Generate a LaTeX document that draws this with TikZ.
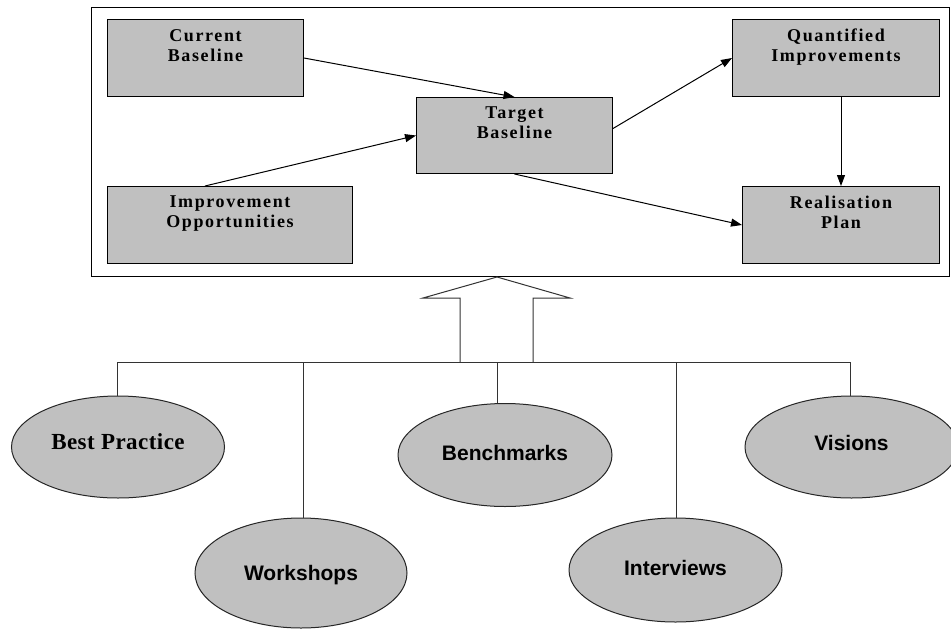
\documentclass[tikz,border=0pt]{standalone}
\usepackage{fontspec}
\setmainfont{Liberation Serif}
\newfontfamily\boxfont{Liberation Serif Bold}[LetterSpace=9]
\newfontfamily\ovalserif{Liberation Serif Bold}[LetterSpace=2]
\newfontfamily\ovalsans{Liberation Sans Bold}
\usetikzlibrary{arrows.meta,shapes.geometric,calc}
\definecolor{boxgray}{HTML}{C0C0C0}
\tikzset{
  box/.style={draw=black, line width=1pt, fill=boxgray, minimum width=#1, inner sep=0pt, anchor=north west},
  boxlabel/.style={anchor=north, yshift=-10pt, align=center, font=\boxfont\fontsize{18}{20}\selectfont, inner sep=0pt},
  oval/.style={ellipse, draw=black!85, line width=1pt, fill=boxgray, inner sep=0pt},
  ovaltext/.style={font=\ovalsans\fontsize{21}{24}\selectfont},
  flowarrow/.style={draw=black, line width=1pt, -{Triangle[length=11pt,width=8pt]}},
  bus/.style={draw=black!80, line width=1pt},
}
\begin{document}
\begin{tikzpicture}[x=1pt, y=-1pt]
\useasboundingbox (0,0) rectangle (951,630);
\fill[white] (0,0) rectangle (951,630);
% frame
\node[draw=black, line width=1pt, minimum width=858pt, minimum height=269pt, inner sep=0pt, anchor=north west] (frame) at (91,7) {};
% boxes
\node[box=196pt, minimum height=77pt, label={[boxlabel]north:{Current\\Baseline}}] (cb) at (107,19) {};
\node[box=245pt, minimum height=77pt, label={[boxlabel]north:{Improvement\\Opportunities}}] (io) at (107,186) {};
\node[box=196pt, minimum height=76pt, label={[boxlabel]north:{Target\\Baseline}}] (tb) at (416,97) {};
\node[box=207pt, minimum height=77pt, label={[boxlabel]north:{Quantified\\Improvements}}] (qi) at (732,19) {};
\node[box=197pt, minimum height=77pt, label={[boxlabel]north:{Realisation\\Plan}}] (rp) at (742,186) {};
% flow arrows
\draw[flowarrow] (cb.east) -- (tb.north);
\draw[flowarrow] ([xshift=-25pt]io.north) -- (tb.west);
\draw[flowarrow] ([yshift=7pt]tb.east) -- (qi.west);
\draw[flowarrow] (tb.south) -- (rp.west);
\draw[flowarrow] (qi.south -| rp.north) -- (rp.north);
% hollow arrow
\coordinate (tip) at (497,277);
\draw[black!80, line width=1pt, fill=white] (460,362) -- (460,298) -- (423,298) -- (tip) -- (570,298) -- (533,298) -- (533,362);
% ellipses
\node[oval, minimum width=213pt, minimum height=102pt] (bp) at (118,447) {};
\node[font=\ovalserif\fontsize{23}{26}\selectfont] at ([yshift=5pt]bp.center) {Best Practice};
\node[oval, minimum width=212pt, minimum height=110pt] (ws) at (301,573) {};
\node[ovaltext] at ([yshift=-2pt]ws.center) {Workshops};
\node[oval, minimum width=214pt, minimum height=103pt] (bm) at (505,455) {};
\node[ovaltext] at ([yshift=2pt]bm.center) {Benchmarks};
\node[oval, minimum width=213pt, minimum height=104pt] (iv) at (675.5,570) {};
\node[ovaltext] at ([yshift=2pt]iv.center) {Interviews};
\node[oval, minimum width=213pt, minimum height=102pt] (vi) at (851.5,447) {};
\node[ovaltext] at ([yshift=4pt]vi.center) {Visions};
% bus
\coordinate (b1) at (117,362);
\coordinate (b2) at (303,362);
\coordinate (b3) at (497,362);
\coordinate (b4) at (676,362);
\coordinate (b5) at (850,362);
\draw[bus] (b1) -- (b5);
\draw[bus] (b1) -- (b1 |- bp.north);
\draw[bus] (b2) -- (b2 |- ws.north);
\draw[bus] (b3) -- (b3 |- bm.north);
\draw[bus] (b4) -- (b4 |- iv.north);
\draw[bus] (b5) -- (b5 |- vi.north);
\end{tikzpicture}
\end{document}
